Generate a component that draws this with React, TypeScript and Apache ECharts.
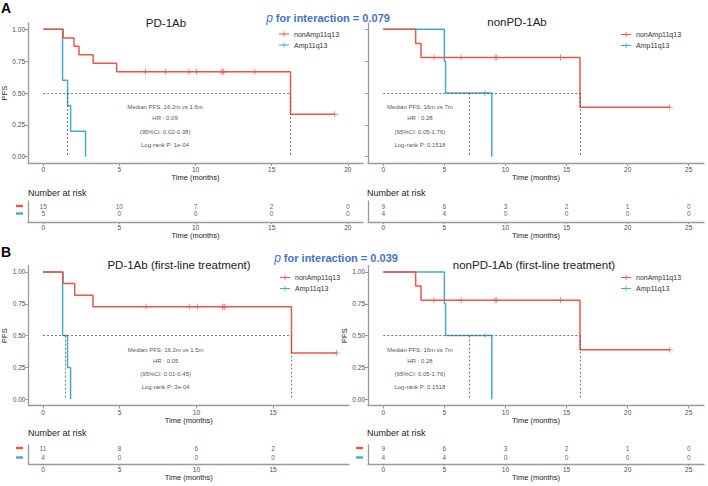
import React, { useEffect, useRef } from 'react';
import * as echarts from 'echarts';

const RED = '#E8574C';
const BLUE = '#4AAAC6';
const AXIS = '#9a9a9a';
const TXT = '#4d4d4d';
const FONT = 'Liberation Sans, Arial, Helvetica, sans-serif';

// ---- Panel A left: PD-1Ab ----
const pdNonTimes = [0, 1.31, 2.02, 2.35, 3.28, 4.82, 16.24, 19.15];
const pdNonSurv = [1, 0.933, 0.867, 0.8, 0.733, 0.667, 0.333, 0.333];
const pdNonCens = [6.72, 8.03, 9.57, 10.07, 11.71, 11.8, 11.86, 13.9, 19.15];
const pdAmpTimes = [0, 1.27, 1.6, 1.8, 2.78];
const pdAmpSurv = [1, 0.6, 0.4, 0.2, 0];
const pdAmpCens: number[] = [];
const pdMedians = [16.2, 1.6];
const pdAnnot = ['Median PFS: 16.2m vs 1.6m', 'HR : 0.09', '(95%CI: 0.02-0.38)', 'Log-rank P: 1e-04'];

// ---- Panel A right / B right: nonPD-1Ab ----
const npNonTimes = [0, 2.65, 3.09, 16.1, 23.45];
const npNonSurv = [1, 0.889, 0.778, 0.389, 0.389];
const npNonCens = [4.15, 6.37, 9.15, 9.29, 14.5, 23.45];
const npAmpTimes = [0, 5.0, 5.1, 8.88];
const npAmpSurv = [1, 0.75, 0.5, 0];
const npAmpCens = [8.33];
const npMedians = [16.1, 7.0];
const npAnnot = ['Median PFS: 16m vs 7m', 'HR : 0.28', '(95%CI: 0.05-1.76)', 'Log-rank P: 0.1518'];

// ---- Panel B left: PD-1Ab (first-line) ----
const flNonTimes = [0, 1.31, 2.07, 3.26, 16.2, 19.15];
const flNonSurv = [1, 0.909, 0.818, 0.727, 0.364, 0.364];
const flNonCens = [6.72, 9.57, 10.07, 11.71, 11.8, 11.86, 19.15];
const flAmpTimes = [0, 1.28, 1.6, 1.8];
const flAmpSurv = [1, 0.5, 0.25, 0];
const flAmpCens: number[] = [];
const flMedians = [16.2, 1.44];
const flAnnot = ['Median PFS: 16.2m vs 1.5m', 'HR : 0.05', '(95%CI: 0.01-0.45)', 'Log-rank P: 3e-04'];

// ---- Number at risk ----
const riskTimesPD = [0, 5, 10, 15, 20];
const riskPdNon = [15, 10, 7, 2, 0];
const riskPdAmp = [5, 0, 0, 0, 0];
const riskTimesNP = [0, 5, 10, 15, 20, 25];
const riskNpNon = [9, 6, 3, 2, 1, 0];
const riskNpAmp = [4, 4, 0, 0, 0, 0];
const riskTimesFL = [0, 5, 10, 15];
const riskFlNon = [11, 8, 6, 2];
const riskFlAmp = [4, 0, 0, 0];

const yTicks = [0, 0.25, 0.5, 0.75, 1];
const annotY = [0.39, 0.3, 0.196, 0.094];

function stepPoints(times: number[], surv: number[]) {
  const pts: number[][] = [[times[0], surv[0]]];
  for (let i = 1; i < times.length; i++) {
    pts.push([times[i], surv[i - 1]]);
    pts.push([times[i], surv[i]]);
  }
  return pts;
}
function survAt(times: number[], surv: number[], t: number) {
  let s = surv[0];
  for (let i = 0; i < times.length; i++) if (times[i] <= t) s = surv[i];
  return s;
}

const panels = [
  {
    grid: { left: 28, top: 23, width: 335, height: 140 }, xRange: [-1, 21], xTicks: [0, 5, 10, 15, 20], yLabels: true,
    non: { t: pdNonTimes, s: pdNonSurv, c: pdNonCens }, amp: { t: pdAmpTimes, s: pdAmpSurv, c: pdAmpCens },
    medians: pdMedians, annot: pdAnnot, annotX: 8,
    table: { top: 201, height: 21, rows: [0.76, 0.4], times: riskTimesPD, non: riskPdNon, amp: riskPdAmp },
    legend: { left: 279, top: 29.5 },
  },
  {
    grid: { left: 368, top: 23, width: 336, height: 140 }, xRange: [-1.25, 26.25], xTicks: [0, 5, 10, 15, 20, 25], yLabels: false,
    non: { t: npNonTimes, s: npNonSurv, c: npNonCens }, amp: { t: npAmpTimes, s: npAmpSurv, c: npAmpCens },
    medians: npMedians, annot: npAnnot, annotX: 3,
    table: { top: 201, height: 21, rows: [0.76, 0.4], times: riskTimesNP, non: riskNpNon, amp: riskNpAmp },
    legend: { left: 621, top: 30 },
  },
  {
    grid: { left: 28.4, top: 265.6, width: 320.6, height: 140 }, xRange: [-0.95, 19.95], xTicks: [0, 5, 10, 15], yLabels: true,
    non: { t: flNonTimes, s: flNonSurv, c: flNonCens }, amp: { t: flAmpTimes, s: flAmpSurv, c: flAmpCens },
    medians: flMedians, annot: flAnnot, annotX: 8,
    table: { top: 445, height: 19, rows: [0.84, 0.34], times: riskTimesFL, non: riskFlNon, amp: riskFlAmp },
    legend: { left: 280, top: 273 },
  },
  {
    grid: { left: 368, top: 265.6, width: 336, height: 140 }, xRange: [-1.25, 26.25], xTicks: [0, 5, 10, 15, 20, 25], yLabels: true,
    non: { t: npNonTimes, s: npNonSurv, c: npNonCens }, amp: { t: npAmpTimes, s: npAmpSurv, c: npAmpCens },
    medians: npMedians, annot: npAnnot, annotX: 3,
    table: { top: 445, height: 19, rows: [0.84, 0.34], times: riskTimesNP, non: riskNpNon, amp: riskNpAmp },
    legend: { left: 621, top: 273 },
  },
];

const CENSOR = 'path://M3,0H4V7H3Z M0,3H7V4H0Z';
const LEGEND_ICON = 'path://M0,3H12V4H0Z M5.5,0.5H6.5V6.5H5.5Z';

function buildOption() {
  const grid: any[] = [];
  const xAxis: any[] = [];
  const yAxis: any[] = [];
  const series: any[] = [];
  const legend: any[] = [];

  const plainLabel = (size: number, color: string) => ({
    show: true, position: 'inside', fontSize: size, color, fontFamily: FONT,
    textBorderWidth: 0, textBorderColor: 'transparent', textShadowBlur: 0,
  });

  panels.forEach((p, pi) => {
    const gMain = grid.length;
    grid.push({ ...p.grid, containLabel: false, outerBoundsMode: 'none' });
    xAxis.push({
      type: 'value', gridIndex: gMain, min: p.xRange[0], max: p.xRange[1],
      axisLine: { show: true, onZero: false, lineStyle: { color: AXIS, width: 1.3 } },
      axisTick: { show: true, length: 3, customValues: p.xTicks, lineStyle: { color: AXIS } },
      axisLabel: { customValues: p.xTicks, fontSize: 6.5, color: TXT, margin: 3, fontFamily: FONT },
      splitLine: { show: false },
      name: 'Time (months)', nameLocation: 'middle', nameGap: 10,
      nameTextStyle: { fontSize: 7.5, color: '#222', fontFamily: FONT },
    });
    yAxis.push({
      type: 'value', gridIndex: gMain, min: -0.05, max: 1.05,
      axisLine: { show: true, onZero: false, lineStyle: { color: AXIS, width: 1.3 } },
      axisTick: { show: true, length: 3, customValues: yTicks, lineStyle: { color: AXIS } },
      axisLabel: { show: p.yLabels, customValues: yTicks, formatter: (v: number) => v.toFixed(2), fontSize: 6.5, color: TXT, margin: 3, fontFamily: FONT },
      splitLine: { show: false },
      name: p.yLabels ? 'PFS' : '', nameLocation: 'middle', nameGap: 20,
      nameTextStyle: { fontSize: 7.5, color: '#222', fontFamily: FONT },
    });

    const maxMed = Math.max(...p.medians);
    const medianLines: any[] = [[{ coord: [0, 0.5] }, { coord: [maxMed, 0.5] }]];
    p.medians.forEach((m) => medianLines.push([{ coord: [m, 0.5] }, { coord: [m, 0] }]));

    series.push({
      type: 'line', name: 'nonAmp11q13', xAxisIndex: gMain, yAxisIndex: gMain,
      data: stepPoints(p.non.t, p.non.s), showSymbol: false, symbol: 'none', color: RED,
      lineStyle: { color: RED, width: 1.5 }, z: 3,
      markLine: {
        silent: true, symbol: ['none', 'none'], label: { show: false },
        lineStyle: { color: '#555', type: [2, 2], width: 0.8 }, data: medianLines,
      },
    });
    series.push({
      type: 'line', name: 'Amp11q13', xAxisIndex: gMain, yAxisIndex: gMain,
      data: stepPoints(p.amp.t, p.amp.s), showSymbol: false, symbol: 'none', color: BLUE,
      lineStyle: { color: BLUE, width: 1.5 }, z: 2,
    });
    series.push({
      type: 'scatter', name: 'censor-non-' + pi, xAxisIndex: gMain, yAxisIndex: gMain,
      data: p.non.c.map((t) => [t, survAt(p.non.t, p.non.s, t)]),
      symbol: CENSOR, symbolSize: 6, itemStyle: { color: RED }, z: 4,
    });
    series.push({
      type: 'scatter', name: 'censor-amp-' + pi, xAxisIndex: gMain, yAxisIndex: gMain,
      data: p.amp.c.map((t) => [t, survAt(p.amp.t, p.amp.s, t)]),
      symbol: CENSOR, symbolSize: 6, itemStyle: { color: BLUE }, z: 4,
    });
    series.push({
      type: 'scatter', name: 'annot-' + pi, xAxisIndex: gMain, yAxisIndex: gMain,
      data: p.annot.map((s, i) => [p.annotX, annotY[i], s]),
      symbolSize: 1, itemStyle: { color: 'rgba(0,0,0,0)' },
      label: { ...plainLabel(6, '#222'), formatter: (q: any) => q.value[2] },
    });

    legend.push({
      orient: 'vertical', left: p.legend.left, top: p.legend.top, padding: 0, itemGap: 2,
      itemWidth: 10, itemHeight: 7, icon: LEGEND_ICON, selectedMode: false,
      data: ['nonAmp11q13', 'Amp11q13'],
      textStyle: { fontSize: 7, color: '#333', lineHeight: 9, fontFamily: FONT },
    });

    // risk table
    const gT = grid.length;
    grid.push({ left: p.grid.left, width: p.grid.width, top: p.table.top, height: p.table.height, containLabel: false, outerBoundsMode: 'none' });
    xAxis.push({
      type: 'value', gridIndex: gT, min: p.xRange[0], max: p.xRange[1],
      axisLine: { show: true, onZero: false, lineStyle: { color: AXIS, width: 1.3 } },
      axisTick: { show: true, length: 2, customValues: p.xTicks, lineStyle: { color: AXIS } },
      axisLabel: { customValues: p.xTicks, fontSize: 6.5, color: TXT, margin: 2, fontFamily: FONT },
      splitLine: { show: false },
      name: 'Time (months)', nameLocation: 'middle', nameGap: 8,
      nameTextStyle: { fontSize: 7.5, color: '#222', fontFamily: FONT },
    });
    yAxis.push({
      type: 'value', gridIndex: gT, min: 0, max: 1,
      axisLine: { show: true, onZero: false, lineStyle: { color: AXIS, width: 1.3 } },
      axisTick: { show: false }, axisLabel: { show: false }, splitLine: { show: false },
    });
    const rows = [p.table.non, p.table.amp];
    rows.forEach((vals, ri) => {
      series.push({
        type: 'scatter', name: 'risk-' + pi + '-' + ri, xAxisIndex: gT, yAxisIndex: gT,
        data: p.table.times.map((t, i) => [t, p.table.rows[ri], vals[i]]),
        symbolSize: 1, itemStyle: { color: 'rgba(0,0,0,0)' },
        label: { ...plainLabel(6.5, '#333'), formatter: (q: any) => String(q.value[2]) },
      });
    });
  });

  const txt = (text: string, x: number, y: number, size: number, opts: any = {}) => ({
    type: 'text', x, y, silent: true,
    style: {
      text, fontSize: size, fontFamily: FONT, fill: opts.fill || '#222', fontWeight: opts.bold ? 'bold' : 'normal',
      textAlign: opts.align || 'center', textVerticalAlign: 'middle', rich: opts.rich,
    },
  });

  const dash = (x: number, y: number, color: string) => ({
    type: 'rect', shape: { x, y: y - 1.2, width: 7, height: 2.4 }, style: { fill: color }, silent: true,
  });

  const interactionRich = {
    i: { fontStyle: 'italic', fontWeight: 'normal', fontSize: 12, fill: '#4472C4', fontFamily: FONT },
  };

  const graphic = [
    txt('A', 1, 8, 14, { bold: true, align: 'left', fill: '#000' }),
    txt('B', 1, 252, 14, { bold: true, align: 'left', fill: '#000' }),
    txt('PD-1Ab', 166, 23, 11.5),
    txt('nonPD-1Ab', 517, 22, 11.5),
    txt('PD-1Ab (first-line treatment)', 179, 265, 11.5),
    txt('nonPD-1Ab (first-line treatment)', 534, 265, 11.5),
    txt('{i|p} for interaction = 0.079', 328, 18, 11, { bold: true, fill: '#4472C4', rich: interactionRich }),
    txt('{i|p} for interaction = 0.039', 336, 258, 11, { bold: true, fill: '#4472C4', rich: interactionRich }),
    txt('Number at risk', 28, 193, 9, { align: 'left' }),
    txt('Number at risk', 367, 193, 9, { align: 'left' }),
    txt('Number at risk', 28, 433, 9, { align: 'left' }),
    txt('Number at risk', 367, 433, 9, { align: 'left' }),
    dash(16, 206, RED),
    dash(16, 213.5, BLUE),
    dash(16, 448, RED),
    dash(16, 457.5, BLUE),
    dash(356, 448, RED),
    dash(356, 457.5, BLUE),
  ];

  return {
    animation: false,
    backgroundColor: '#fff',
    textStyle: { fontFamily: FONT },
    grid, xAxis, yAxis, series, legend, graphic,
  };
}

export default function App() {
  const ref = useRef<HTMLDivElement>(null);
  useEffect(() => {
    if (!ref.current) return;
    const chart = echarts.init(ref.current, undefined, { renderer: 'svg' });
    chart.setOption(buildOption() as any);
    return () => chart.dispose();
  }, []);
  return <div ref={ref} style={{ position: 'fixed', left: 0, top: 0, width: 708, height: 486 }} />;
}
